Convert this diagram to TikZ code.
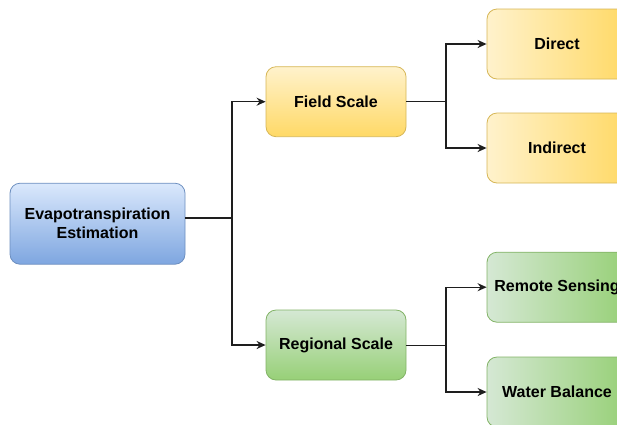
\documentclass[tikz,border=0pt]{standalone}
\usepackage{fontspec}
\setmainfont{Liberation Sans}
\usetikzlibrary{
  arrows.meta,
  positioning
}
\definecolor{BlueTop}{HTML}{DAE8FC}
\definecolor{BlueBottom}{HTML}{7EA6E0}
\definecolor{BlueLine}{HTML}{6C8EBF}
\definecolor{GoldTop}{HTML}{FFF2CC}
\definecolor{GoldBottom}{HTML}{FFD966}
\definecolor{GoldLine}{HTML}{D6B656}
\definecolor{GreenTop}{HTML}{D5E8D4}
\definecolor{GreenBottom}{HTML}{97D077}
\definecolor{GreenLine}{HTML}{82B366}
\definecolor{LinkGray}{RGB}{30, 30, 30}
\tikzset{
    box/.style={rectangle, rounded corners=10pt, minimum width=140pt, minimum height=70pt,
        inner sep=0pt, align=center, line width=0.8pt,
        font=\fontsize{16}{19}\selectfont\bfseries},
    rootbox/.style={box, draw=BlueLine, top color=BlueTop, bottom color=BlueBottom,
        minimum width=175pt, minimum height=81pt},
    fieldbox/.style={box, draw=GoldLine, top color=GoldTop, bottom color=GoldBottom},
    fieldleaf/.style={box, draw=GoldLine, left color=GoldTop, right color=GoldBottom},
    regionbox/.style={box, draw=GreenLine, top color=GreenTop, bottom color=GreenBottom},
    regionleaf/.style={box, draw=GreenLine, left color=GreenTop, right color=GreenBottom},
    link/.style={draw=LinkGray, line width=1.4pt},
    arrowlink/.style={link, -{Stealth[length=9pt, width=8pt]}}
}

\begin{document}
\begin{tikzpicture}[x=1pt, y=-1pt]
    \useasboundingbox (0,0) rectangle (617,424);
    \clip (0,0) rectangle (617,424);

    % root and the two scales
    \node[rootbox] (evapo) at (97.5,223.7) {Evapotranspiration\\Estimation};
    \node[fieldbox] (field) at (336,101.7) {Field Scale};
    \node[regionbox] (regional) at (336,345) {Regional Scale};

    % methods
    \node[fieldleaf] (direct) at (557,44) {Direct};
    \node[fieldleaf] (indirect) at (557,148) {Indirect};
    \node[regionleaf] (remote) at (557,287.2) {Remote Sensing};
    \node[regionleaf] (balance) at (557,392) {Water Balance};

    % split points
    \coordinate (split) at (232,218);
    \coordinate (fieldsplit) at (446,101.7);
    \coordinate (regionsplit) at (446,345.5);

    \draw[link] (evapo.east |- split) -- (split);
    \draw[arrowlink] (split) |- (field);
    \draw[arrowlink] (split) |- (regional);

    \draw[link] (field.east |- fieldsplit) -- (fieldsplit);
    \draw[arrowlink] (fieldsplit) |- (direct);
    \draw[arrowlink] (fieldsplit) |- (indirect);

    \draw[link] (regional.east |- regionsplit) -- (regionsplit);
    \draw[arrowlink] (regionsplit) |- (remote);
    \draw[arrowlink] (regionsplit) |- (balance);
\end{tikzpicture}
\end{document}
